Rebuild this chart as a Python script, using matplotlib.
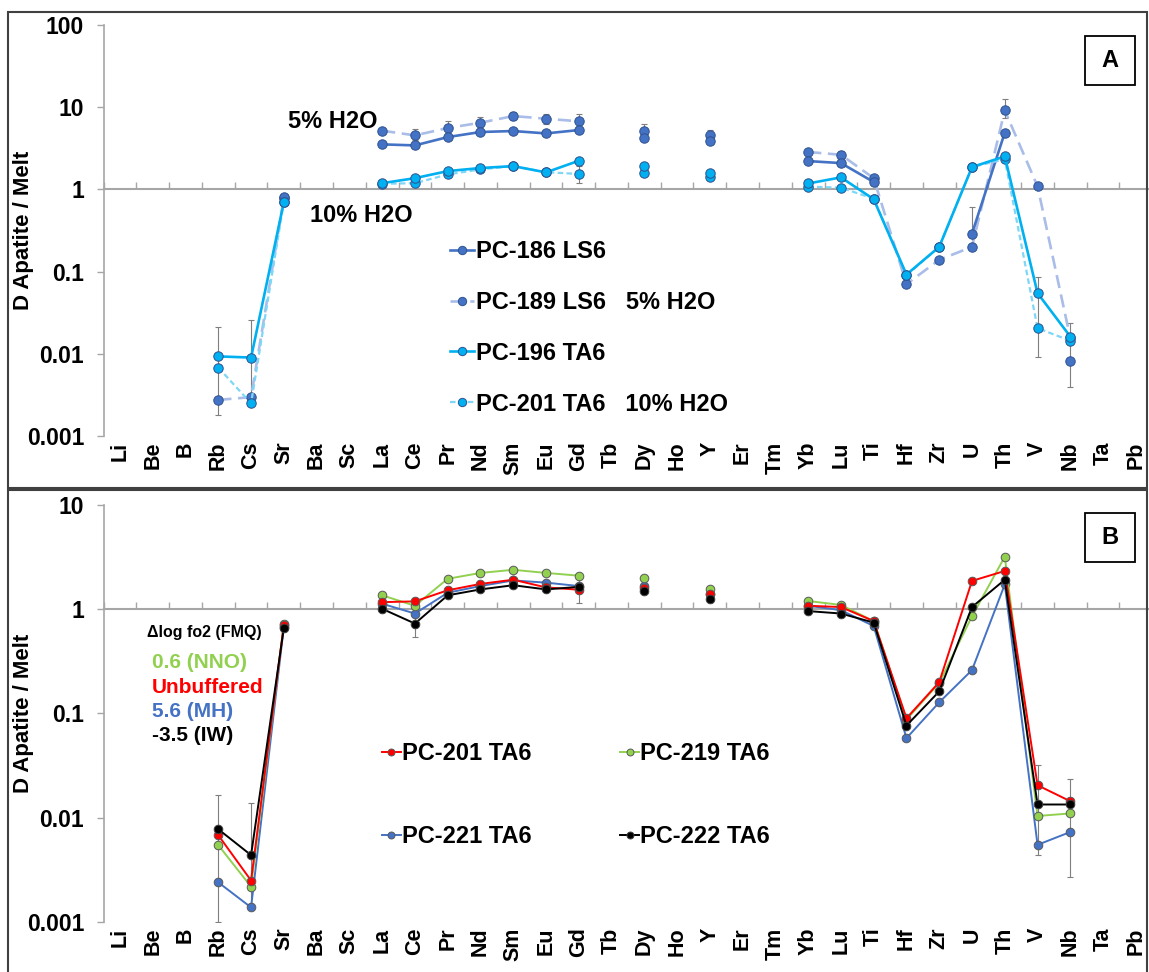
import numpy as np
import matplotlib
matplotlib.use("Agg")
import matplotlib.pyplot as plt
import matplotlib.ticker as mticker
from matplotlib.lines import Line2D
from matplotlib.patches import Rectangle

plt.rcParams["font.family"] = ["Liberation Sans", "DejaVu Sans"]
plt.rcParams["font.weight"] = "bold"

# ── Data ──────────────────────────────────────────────────────────────────
ELEMENTS = ["Li", "Be", "B", "Rb", "Cs", "Sr", "Ba", "Sc", "La", "Ce", "Pr",
            "Nd", "Sm", "Eu", "Gd", "Tb", "Dy", "Ho", "Y", "Er", "Tm", "Yb",
            "Lu", "Ti", "Hf", "Zr", "U", "Th", "V", "Nb", "Ta", "Pb"]

# panel A
PC186 = {"Sr": 0.81, "La": 3.53, "Ce": 3.43, "Pr": 4.33, "Nd": 4.99, "Sm": 5.13,
         "Eu": 4.80, "Gd": 5.27, "Dy": 4.26, "Y": 3.84, "Yb": 2.21, "Lu": 2.09,
         "Ti": 1.23, "U": 0.29, "Th": 4.9, "Nb": 0.0081}
PC189 = {"Rb": 0.00275, "Cs": 0.00297, "Sr": 0.78, "La": 5.18, "Ce": 4.54,
         "Pr": 5.58, "Nd": 6.48, "Sm": 7.80, "Eu": 7.25, "Gd": 6.73, "Dy": 5.2,
         "Y": 4.58, "Yb": 2.85, "Lu": 2.64, "Ti": 1.37, "Hf": 0.0705,
         "Zr": 0.139, "U": 0.20, "Th": 9.15, "V": 1.09, "Nb": 0.0155}
PC196 = {"Rb": 0.0093, "Cs": 0.0090, "Sr": 0.70, "La": 1.19, "Ce": 1.37,
         "Pr": 1.67, "Nd": 1.82, "Sm": 1.92, "Eu": 1.61, "Gd": 2.23, "Dy": 1.90,
         "Y": 1.60, "Yb": 1.18, "Lu": 1.40, "Ti": 0.76, "Hf": 0.092, "Zr": 0.20,
         "U": 1.87, "Th": 2.52, "V": 0.0547, "Nb": 0.0162}
# PC-201 is shared by both panels
PC201 = {"Rb": 0.0068, "Cs": 0.0025, "Sr": 0.71, "La": 1.17, "Ce": 1.19,
         "Pr": 1.52, "Nd": 1.75, "Sm": 1.92, "Eu": 1.62, "Gd": 1.54, "Dy": 1.60,
         "Y": 1.40, "Yb": 1.08, "Lu": 1.05, "Ti": 0.77, "Hf": 0.09, "Zr": 0.20,
         "U": 1.87, "Th": 2.33, "V": 0.0205, "Nb": 0.0144}

# panel B
PC219 = {"Rb": 0.00546, "Cs": 0.00218, "Sr": 0.72, "La": 1.36, "Ce": 1.08,
         "Pr": 1.96, "Nd": 2.23, "Sm": 2.39, "Eu": 2.23, "Gd": 2.10, "Dy": 2.01,
         "Y": 1.58, "Yb": 1.20, "Lu": 1.10, "Ti": 0.77, "Hf": 0.0874,
         "Zr": 0.196, "U": 0.857, "Th": 3.19, "V": 0.0104, "Nb": 0.011}
PC221 = {"Rb": 0.0024, "Cs": 0.00138, "Sr": 0.68, "La": 1.13, "Ce": 0.909,
         "Pr": 1.44, "Nd": 1.67, "Sm": 1.89, "Eu": 1.80, "Gd": 1.67, "Dy": 1.67,
         "Y": 1.41, "Yb": 1.08, "Lu": 0.98, "Ti": 0.69, "Hf": 0.058,
         "Zr": 0.128, "U": 0.261, "Th": 1.73, "V": 0.0055, "Nb": 0.0073}
PC222 = {"Rb": 0.00776, "Cs": 0.00438, "Sr": 0.66, "La": 1.01, "Ce": 0.729,
         "Pr": 1.36, "Nd": 1.55, "Sm": 1.70, "Eu": 1.55, "Gd": 1.64, "Dy": 1.50,
         "Y": 1.25, "Yb": 0.96, "Lu": 0.91, "Ti": 0.745, "Hf": 0.0766,
         "Zr": 0.163, "U": 1.05, "Th": 1.92, "V": 0.0134, "Nb": 0.0134}

# error bars: (series, element, low, high)
ERR_A = [("PC201", "Rb", 0.0018, 0.021), ("PC196", "Cs", 0.0028, 0.026),
         ("PC189", "Ce", 4.0, 5.4), ("PC189", "Pr", 4.8, 6.7),
         ("PC189", "Nd", 5.5, 7.6), ("PC189", "Sm", 7.0, 8.7),
         ("PC189", "Eu", 6.3, 8.3), ("PC189", "Gd", 5.7, 8.2),
         ("PC201", "Gd", 1.2, 1.9), ("PC189", "Dy", 4.8, 6.3),
         ("PC189", "Y", 4.2, 5.3), ("PC189", "Lu", 2.4, 2.9),
         ("PC186", "U", 0.2, 0.61), ("PC189", "Th", 7.3, 12.7),
         ("PC196", "V", 0.0091, 0.087), ("PC186", "Nb", 0.0039, 0.024)]
ERR_B = [("PC219", "Rb", 0.001, 0.0164), ("PC219", "Cs", 0.0015, 0.0137),
         ("PC222", "Ce", 0.54, 0.95), ("PC201", "Gd", 1.15, 2.05),
         ("PC219", "V", 0.0044, 0.032), ("PC221", "Nb", 0.0027, 0.0237)]

# ── Styling ───────────────────────────────────────────────────────────────
AXIS_GRAY = "#A6A6A6"
ERR_GRAY = "#7F7F7F"
SERIES = {
    "PC186": dict(color="#4472C4", ls="-", lw=1.9, mfc="#4472C4", mec="#2F528F"),
    "PC189": dict(color="#A9BDE8", ls=(0, (5, 2.5)), lw=1.9, mfc="#4472C4", mec="#2F528F"),
    "PC196": dict(color="#00B0F0", ls="-", lw=1.9, mfc="#00B0F0", mec="#2F528F"),
    "PC201A": dict(color="#7FD6F7", ls=(0, (2.5, 1.5)), lw=1.6, mfc="#00B0F0", mec="#2F528F"),
    "PC201": dict(color="#FF0000", ls="-", lw=1.4, mfc="#FF0000", mec="#595959"),
    "PC219": dict(color="#92D050", ls="-", lw=1.4, mfc="#92D050", mec="#595959"),
    "PC221": dict(color="#4472C4", ls="-", lw=1.4, mfc="#4472C4", mec="#595959"),
    "PC222": dict(color="#000000", ls="-", lw=1.4, mfc="#000000", mec="#404040"),
}
DATA = {"PC186": PC186, "PC189": PC189, "PC196": PC196, "PC201": PC201,
        "PC201A": PC201, "PC219": PC219, "PC221": PC221, "PC222": PC222}

x = np.arange(len(ELEMENTS))


def series_array(d):
    return np.array([d.get(el, np.nan) for el in ELEMENTS], dtype=float)


def plot_series(ax, key, ms=6.8, z=3):
    st = SERIES[key]
    ax.plot(x, series_array(DATA[key]), color=st["color"], ls=st["ls"], lw=st["lw"],
            marker="o", ms=ms, mfc=st["mfc"], mec=st["mec"], mew=0.7, zorder=z)


def plot_errors(ax, errs, data_keys):
    for key, el, lo, hi in errs:
        xi = ELEMENTS.index(el)
        v = data_keys[key][el]
        ax.errorbar([xi], [v], yerr=[[v - lo], [hi - v]], fmt="none",
                    ecolor=ERR_GRAY, elinewidth=0.8, capsize=2, capthick=0.8, zorder=2)


def setup_axes(ax, ymin, ymax):
    ax.set_yscale("log")
    ax.set_ylim(ymin, ymax)
    ax.set_xlim(-0.5, len(ELEMENTS) - 0.5)
    for s in ["top", "right"]:
        ax.spines[s].set_visible(False)
    ax.spines["left"].set_color(AXIS_GRAY)
    ax.spines["left"].set_linewidth(1.2)
    ax.spines["bottom"].set_position(("data", 1))
    ax.spines["bottom"].set_color(AXIS_GRAY)
    ax.spines["bottom"].set_linewidth(1.5)
    ax.set_xticks(np.arange(len(ELEMENTS) + 1) - 0.5)
    ax.tick_params(axis="x", direction="in", length=5, width=1, color=AXIS_GRAY,
                   labelbottom=False)
    ax.yaxis.set_major_locator(mticker.LogLocator(base=10))
    ax.yaxis.set_minor_locator(mticker.NullLocator())
    ax.yaxis.set_major_formatter(mticker.FuncFormatter(lambda v, _: f"{v:g}"))
    ax.tick_params(axis="y", direction="out", length=5, width=1, color=AXIS_GRAY,
                   labelsize=16.5, pad=9)
    ax.set_ylabel("D Apatite / Melt", fontsize=16, fontweight="bold")
    ax.yaxis.set_label_coords(-0.066, 0.5)
    sec = ax.secondary_xaxis(0)
    sec.set_xticks(x, ELEMENTS, rotation=90, fontsize=15.5, fontweight="bold")
    sec.tick_params(length=0, pad=4)
    sec.spines["bottom"].set_visible(False)


fig = plt.figure(figsize=(11.49, 9.72), dpi=100)
W, H = 1149.0, 972.0

# panel frames
fig.add_artist(Rectangle((8 / W, 1 - 488 / H), (1147 - 8) / W, (488 - 12) / H,
                         transform=fig.transFigure, fill=False, ec="#404040", lw=1.5))
fig.add_artist(Rectangle((8 / W, 1 - 975 / H), (1147 - 8) / W, (975 - 490) / H,
                         transform=fig.transFigure, fill=False, ec="#404040", lw=1.5))

left = 103.6 / W
width = 32 * 32.77 / W
axA = fig.add_axes([left, 1 - 436 / H, width, (436 - 25) / H])
axB = fig.add_axes([left, 1 - 922 / H, width, (922 - 505) / H])

# ── Panel A ───────────────────────────────────────────────────────────────
setup_axes(axA, 0.001, 100)
plot_errors(axA, ERR_A, DATA)
plot_series(axA, "PC189", z=3)
plot_series(axA, "PC186", z=4)
plot_series(axA, "PC201A", z=5)
plot_series(axA, "PC196", z=6)

axA.text(377 / W, 1 - 121 / H, "5% H2O", transform=fig.transFigure, fontsize=17,
         fontweight="bold", ha="right", va="center")
axA.text(310 / W, 1 - 215 / H, "10% H2O", transform=fig.transFigure, fontsize=17,
         fontweight="bold", ha="left", va="center")

labels_A = ["PC-186 LS6", "PC-189 LS6   5% H2O", "PC-196 TA6", "PC-201 TA6   10% H2O"]
handles_A = []
for key in ["PC186", "PC189", "PC196", "PC201A"]:
    st = SERIES[key]
    handles_A.append(Line2D([], [], color=st["color"], ls=st["ls"], lw=st["lw"],
                            marker="o", ms=6, mfc=st["mfc"], mec=st["mec"], mew=0.7))
fig.legend(handles_A, labels_A, loc="upper left", bbox_to_anchor=(450 / W, 1 - 240 / H),
           frameon=False, handlelength=1.0, handletextpad=0.1,
           labelspacing=1.18, borderpad=0, borderaxespad=0,
           prop={"weight": "bold", "size": 17})

# ── Panel B ───────────────────────────────────────────────────────────────
setup_axes(axB, 0.001, 10)
plot_errors(axB, ERR_B, DATA)
plot_series(axB, "PC221", ms=6.2, z=3)
plot_series(axB, "PC219", ms=6.2, z=4)
plot_series(axB, "PC201", ms=6.2, z=5)
plot_series(axB, "PC222", ms=6.2, z=6)

fig.text(147 / W, 1 - 633 / H, "Δlog fo2 (FMQ)", fontsize=11.5, fontweight="bold",
         va="center", ha="left")
NOTES_B = ["0.6 (NNO)", "Unbuffered", "5.6 (MH)", "-3.5 (IW)"]
NOTE_COLORS = ["#92D050", "#FF0000", "#4472C4", "#000000"]
NOTE_Y = [662, 687, 711, 735]
for txt, c, yy in zip(NOTES_B, NOTE_COLORS, NOTE_Y):
    fig.text(152 / W, 1 - yy / H, txt, color=c, fontsize=15, fontweight="bold",
             va="center", ha="left")

order_B = ["PC201", "PC221", "PC219", "PC222"]
labels_B = ["PC-201 TA6", "PC-221 TA6", "PC-219 TA6", "PC-222 TA6"]
handles_B = []
for key in order_B:
    st = SERIES[key]
    handles_B.append(Line2D([], [], color=st["color"], ls=st["ls"], lw=st["lw"],
                            marker="o", ms=5, mfc=st["mfc"], mec=st["mec"], mew=0.7))
fig.legend(handles_B, labels_B, loc="upper left", bbox_to_anchor=(382 / W, 1 - 742 / H),
           ncol=2, frameon=False, handlelength=0.8, handletextpad=0.05,
           labelspacing=2.55, columnspacing=3.75, borderpad=0, borderaxespad=0,
           prop={"weight": "bold", "size": 17})

# ── Panel tags ────────────────────────────────────────────────────────────
for tag, y0 in [("A", 36), ("B", 513)]:
    fig.add_artist(Rectangle((1085 / W, 1 - (y0 + 49) / H), 50 / W, 49 / H,
                             transform=fig.transFigure, fill=False, ec="#000000", lw=1.3))
    fig.text(1110 / W, 1 - (y0 + 24.5) / H, tag, fontsize=17, fontweight="bold",
             ha="center", va="center")

fig.savefig("out.png", dpi=100)
